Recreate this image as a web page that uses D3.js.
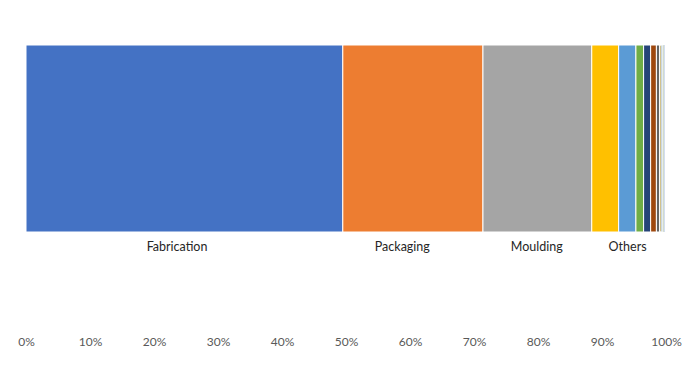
<!DOCTYPE html>
<html>
<head>
<meta charset="utf-8">
<script src="https://cdn.jsdelivr.net/npm/d3@7"></script>
<style>
  body { margin: 0; background: #fff; }
  text { font-family: Lato, "Open Sans", sans-serif; }
</style>
</head>
<body>
<div id="chart"></div>
<script>
// segment shares in percent, left to right
var segments = [49.5, 21.9, 17.0, 4.2, 2.7, 1.2, 1.1, 0.9, 0.5, 0.25, 0.25, 0.2, 0.2, 0.1];
var colors = ["#4472C4", "#ED7D31", "#A5A5A5", "#FFC000", "#5B9BD5", "#70AD47",
              "#264478", "#9E480E", "#636363", "#997300", "#255E91", "#43682B", "#698ED0", "#F1975A"];
// category labels and where they sit along the axis (percent)
var labelNames = ["Fabrication", "Packaging", "Moulding", "Others"];
var labelPos = [23.6, 58.8, 79.8, 94.0];
var ticks = [0, 10, 20, 30, 40, 50, 60, 70, 80, 90, 100];

var width = 690, height = 368;
var svg = d3.select("#chart").append("svg")
    .attr("width", width)
    .attr("height", height);

var x = d3.scaleLinear().domain([0, 100]).range([26, 666]);
var barTop = 45, barBottom = 232;

// cumulative starts
var starts = [];
var acc = 0;
segments.forEach(function(v) { starts.push(acc); acc += v; });

svg.append("g").selectAll("rect").data(segments)
    .enter().append("rect")
    .attr("x", function(d, i) { return x(starts[i]); })
    .attr("y", barTop)
    .attr("width", function(d) { return x(d) - x(0); })
    .attr("height", barBottom - barTop)
    .attr("fill", function(d, i) { return colors[i]; })
    .attr("stroke", "#fff")
    .attr("stroke-width", 1);

svg.append("g").selectAll("text").data(labelNames)
    .enter().append("text")
    .attr("x", function(d, i) { return x(labelPos[i]); })
    .attr("y", 251)
    .attr("text-anchor", "middle")
    .attr("font-size", "12.5px")
    .attr("fill", "#262626")
    .text(function(d) { return d; });

var axis = d3.axisBottom(x).tickValues(ticks)
    .tickFormat(function(d) { return d + "%"; })
    .tickSize(0).tickPadding(0);

var ax = svg.append("g")
    .attr("transform", "translate(0,337)")
    .call(axis);
ax.select(".domain").remove();
ax.selectAll("text")
    .attr("font-size", "12px")
    .attr("fill", "#595959")
    .style("font-family", "Lato, 'Open Sans', sans-serif");
</script>
</body>
</html>
